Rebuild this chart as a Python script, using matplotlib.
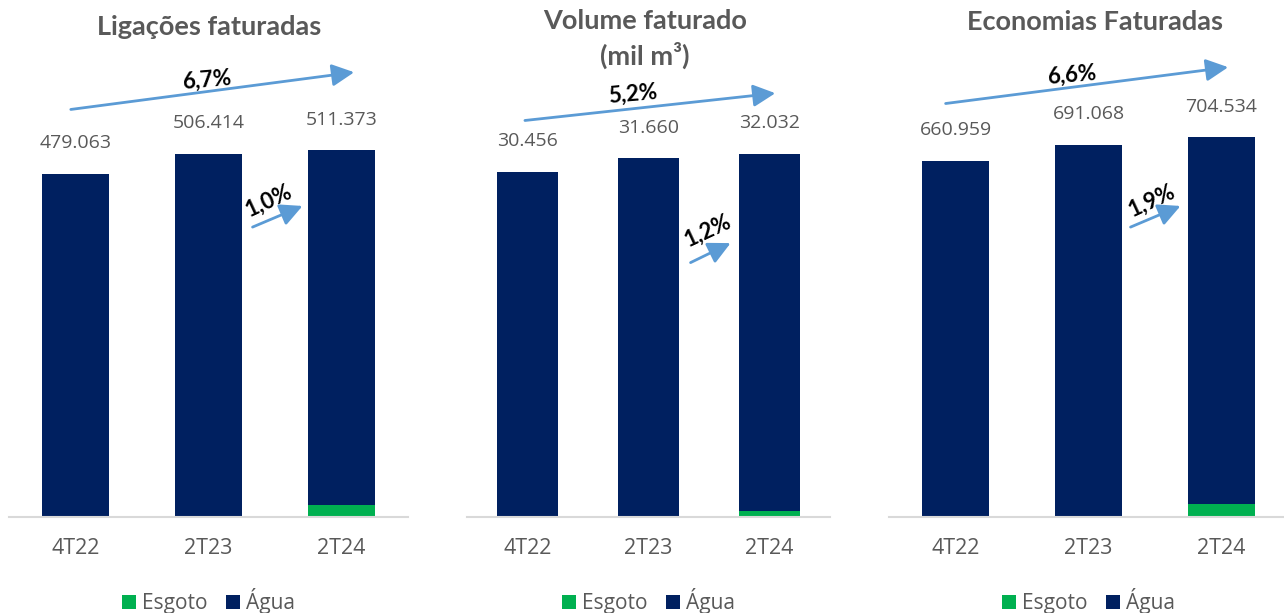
import matplotlib
matplotlib.use("Agg")
import matplotlib.pyplot as plt
from matplotlib.patches import FancyArrowPatch

plt.rcParams['font.family'] = ['Open Sans', 'DejaVu Sans']

# dados
categorias = ['4T22', '2T23', '2T24']

lig_total = [479063, 506414, 511373]
lig_esgoto = [0, 0, 17000]

vol_total = [30456, 31660, 32032]
vol_esgoto = [0, 0, 530]

eco_total = [660959, 691068, 704534]
eco_esgoto = [0, 0, 24000]

titulos = ['Ligações faturadas', 'Volume faturado\n(mil m³)', 'Economias Faturadas']
var_ano = ['6,7%', '5,2%', '6,6%']
var_tri = ['1,0%', '1,2%', '1,9%']

AZUL = '#002060'
VERDE = '#00B050'
SETA = '#5B9BD5'
CINZA = '#595959'

W, H = 1284, 613
fig = plt.figure(figsize=(W / 100, H / 100), dpi=100)

base = 517
topo = 60
# (esquerda px, largura px, ymax)
paineis = [(9, 399, 637400), (467, 363, 40320), (889, 399, 848200)]
dados = [(lig_total, lig_esgoto), (vol_total, vol_esgoto), (eco_total, eco_esgoto)]

# setas em fração dos eixos: (x0, y0, x1, y1, texto x, texto y)
setas_ano = [(0.148, 0.891, 0.872, 0.974, 0.496, 0.955),
             (0.152, 0.867, 0.857, 0.928, 0.457, 0.926),
             (0.135, 0.904, 0.857, 0.985, 0.459, 0.968)]
setas_tri = [(0.604, 0.632, 0.742, 0.683, 0.650, 0.692),
             (0.609, 0.554, 0.733, 0.602, 0.662, 0.626),
             (0.599, 0.632, 0.737, 0.683, 0.658, 0.692)]

FONTE_NEGRITO = ['Lato', 'DejaVu Sans']


def fmt(v):
    return f"{v:,}".replace(',', '.')


for i, ((left, width, ymax), (total, esgoto)) in enumerate(zip(paineis, dados)):
    ax = fig.add_axes([left / W, 1 - base / H, width / W, (base - topo) / H])
    agua = [t - e for t, e in zip(total, esgoto)]
    x = range(len(categorias))
    ax.bar(x, esgoto, width=0.5, color=VERDE, label='Esgoto')
    ax.bar(x, agua, width=0.5, bottom=esgoto, color=AZUL, label='Água')
    ax.set_xlim(-0.5, 2.5)
    ax.set_ylim(0, ymax)
    for xi, t in zip(x, total):
        ax.annotate(fmt(t), (xi, t), xytext=(0, 22), textcoords='offset points',
                    ha='center', va='center', fontsize=14, color=CINZA)
    ax.set_xticks(list(x))
    ax.set_xticklabels(categorias, fontsize=15.5, color=CINZA)
    ax.tick_params(axis='x', length=0, pad=15)
    ax.set_yticks([])
    for s in ['top', 'right', 'left']:
        ax.spines[s].set_visible(False)
    ax.spines['bottom'].set_color('#D9D9D9')
    ax.spines['bottom'].set_linewidth(1.5)

    x0, y0, x1, y1, tx, ty = setas_ano[i]
    ax.add_patch(FancyArrowPatch((x0, y0), (x1, y1), transform=ax.transAxes,
                                 arrowstyle='-|>,head_length=0.9,head_width=0.45',
                                 mutation_scale=15, color=SETA, lw=2.0,
                                 clip_on=False))
    ax.text(tx, ty, var_ano[i], transform=ax.transAxes, ha='center', va='center',
            fontsize=16, fontweight='bold', color='black', rotation=5,
            family=FONTE_NEGRITO)

    x0, y0, x1, y1, tx, ty = setas_tri[i]
    ax.add_patch(FancyArrowPatch((x0, y0), (x1, y1), transform=ax.transAxes,
                                 arrowstyle='-|>,head_length=0.9,head_width=0.45',
                                 mutation_scale=15, color=SETA, lw=2.0,
                                 clip_on=False))
    ax.text(tx, ty, var_tri[i], transform=ax.transAxes, ha='center', va='center',
            fontsize=16, fontweight='bold', color='black', rotation=25,
            family=FONTE_NEGRITO)

    ax.legend(loc='center', bbox_to_anchor=(0.5, -0.184),
              ncol=2, frameon=False, fontsize=15, handlelength=0.65, handleheight=0.65,
              handletextpad=0.3, columnspacing=0.9, labelcolor=CINZA)

# títulos
fig.text(209 / W, 1 - 27 / H, titulos[0], ha='center', va='center', fontsize=19.5,
         fontweight='bold', color=CINZA, family=FONTE_NEGRITO)
fig.text(645 / W, 1 - 39 / H, titulos[1], ha='center', va='center', fontsize=19.5,
         fontweight='bold', color=CINZA, family=FONTE_NEGRITO,
         linespacing=1.35)
fig.text(1095 / W, 1 - 22 / H, titulos[2], ha='center', va='center', fontsize=19.5,
         fontweight='bold', color=CINZA, family=FONTE_NEGRITO)

fig.savefig('out.png', dpi=100)
